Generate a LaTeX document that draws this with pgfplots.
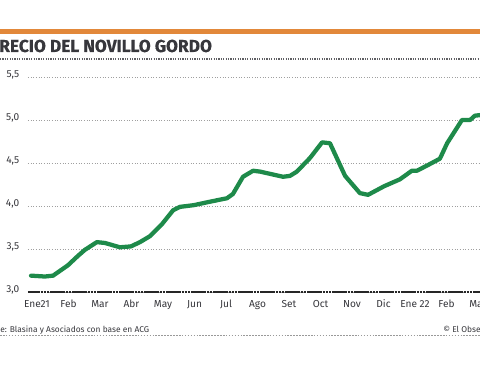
\documentclass[border=0pt]{standalone}
\usepackage{pgfplots}
\pgfplotsset{compat=1.18}
\usepackage{fontspec}
\setmainfont{Fira Sans}
\newfontfamily\titlefont[BoldFeatures={FakeBold=0.5}]{Fira Sans}
\definecolor{orangebar}{RGB}{226,136,58}
\definecolor{linegreen}{RGB}{30,138,74}
\definecolor{txt}{RGB}{55,55,60}
\begin{document}
\begin{tikzpicture}[x=0.75pt,y=0.75pt]
\useasboundingbox (0,0) rectangle (480,365);
\clip (0,0) rectangle (480,365);
% orange top bar
\fill[orangebar] (0,331) rectangle (480,335.5);
% title
\node[anchor=base west, inner sep=0, text=txt, font=\titlefont\bfseries\fontsize{13}{15}\selectfont] at (-1,313) {\llap{P}RECIO DEL NOVILLO GORDO};
% dotted rule under title
\draw[txt!80, line width=1pt, dash pattern=on 0.9pt off 0.9pt] (0,306) -- (480,306);
% source line
\node[anchor=base west, inner sep=0, text=txt, font=\fontsize{6.3}{8}\selectfont] at (0,32.5) {\llap{Fuent}e: Blasina y Asociados con base en ACG};
\node[anchor=base west, inner sep=0, text=txt, font=\fontsize{6.3}{8}\selectfont] at (443,32.5) {\textcopyright{} El Observador};
\draw[gray!80, line width=0.6pt, dash pattern=on 1.2pt off 1pt] (0,30) -- (480,30);
\begin{axis}[
  at={(21pt,54.75pt)}, anchor=south west,
  scale only axis, width=339pt, height=161.25pt,
  xmin=-0.2857, xmax=14.063, ymin=3, ymax=5.5,
  axis line style={draw=none}, clip=false,
  ytick={3,3.5,4,4.5,5,5.5},
  xtick={0,1,2,3,4,5,6,7,8,9,10,11,12,13,14},
  xticklabels={Ene21,Feb,Mar,Abr,May,Jun,Jul,Ago,Set,Oct,Nov,Dic,Ene 22,Feb,Mar},
  ymajorgrids,
  major grid style={gray!75, line width=0.5pt, dash pattern=on 0.8pt off 1.2pt},
  major tick length=0pt, tick style={draw=none},
  tick label style={text=txt, font=\fontsize{7.6}{9}\selectfont},
  /pgf/number format/use comma,
  /pgf/number format/fixed,
  /pgf/number format/fixed zerofill,
  /pgf/number format/precision=1,
  /pgf/number format/assume math mode=true,
  yticklabel style={anchor=east, xshift=-3pt, yshift=1.5pt},
  xticklabel style={yshift=-2.5pt},
]
\addplot[draw=linegreen, line width=3.2pt, line join=round, line cap=round, mark=none] coordinates {
(-0.19,3.19) (0.25,3.18) (0.51,3.19) (0.98,3.31) (1.30,3.42) (1.52,3.49)
(1.90,3.58) (2.16,3.57) (2.63,3.52) (2.98,3.53) (3.27,3.58) (3.59,3.65)
(3.97,3.79) (4.32,3.95) (4.54,3.99) (4.98,4.01) (5.49,4.05) (6.03,4.09)
(6.22,4.14) (6.54,4.34) (6.86,4.41) (7.08,4.40) (7.81,4.34) (8.03,4.35)
(8.25,4.40) (8.67,4.56) (9.05,4.74) (9.30,4.73) (9.78,4.35) (10.25,4.15)
(10.51,4.13) (11.02,4.23) (11.52,4.31) (11.90,4.41) (12.06,4.41) (12.38,4.47)
(12.79,4.55) (13.02,4.73) (13.49,5.00) (13.75,5.00) (13.90,5.05) (14.13,5.06)
};
\draw[black!85, line width=1.3pt, dash pattern=on 2pt off 0.35pt] (axis cs:-0.2857,3) -- (axis cs:14.2,3);
\end{axis}
\end{tikzpicture}
\end{document}
